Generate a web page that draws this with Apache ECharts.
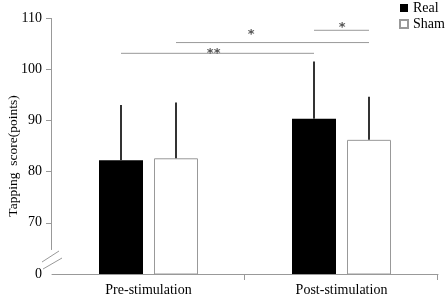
<!DOCTYPE html>
<html>
<head>
<meta charset="utf-8">
<script src="https://cdn.jsdelivr.net/npm/echarts@6/dist/echarts.min.js"></script>
<style>
  html, body { margin: 0; padding: 0; background: #fff; }
  #chart { width: 447px; height: 298px; }
</style>
</head>
<body>
<div id="chart"></div>
<script>
const categories = ["Pre-stimulation", "Post-stimulation"];
const realMean = [82.2, 90.3];
const realUpper = [93.0, 101.5];
const shamMean = [82.6, 86.2];
const shamUpper = [93.5, 94.6];
const yTickValues = [70, 80, 90, 100, 110];
const yLabelValues = [60, 70, 80, 90, 100, 110]; // 60 is printed as "0" (broken axis)
// significance brackets: from [category, series] to [category, series], level, mark
const sigFrom = [[0, 0], [0, 1], [1, 0]];
const sigTo = [[1, 0], [1, 1], [1, 1]];
const sigLevel = [103.1, 105.2, 107.6];
const sigMark = ["**", "*", "*"];

const FONT = "'Liberation Serif', 'Times New Roman', serif";
const AXIS_COLOR = "#999";
const GRID_LEFT = 52;
const BAR_W = 44;
const GAP = 0.25;
const OFFSET = (BAR_W + BAR_W * GAP) / 2; // distance from category centre to bar centre
const sigTextAt = [0.48, 0.39, 0.51];
const sigTextRise = [4, 12, 7];

const chart = echarts.init(document.getElementById("chart"));

function whisker(offset) {
  return function (params, api) {
    const base = api.coord([api.value(0), api.value(1)]);
    const top = api.coord([api.value(0), api.value(2)]);
    const x = base[0] + offset;
    return {
      type: "line",
      shape: { x1: x, y1: base[1], x2: x, y2: top[1] },
      style: { stroke: "#333", lineWidth: 2 }
    };
  };
}

function barX(api, cat, s) {
  return api.coord([cat, 60])[0] + (s === 0 ? -OFFSET : OFFSET);
}

const option = {
  animation: false,
  grid: { left: GRID_LEFT, right: 9, top: 18, bottom: 24 },
  legend: {
    data: ["Real", "Sham"],
    orient: "vertical",
    left: 399,
    top: 1,
    padding: 0,
    icon: "rect",
    itemWidth: 8,
    itemHeight: 8,
    itemGap: 2,
    textStyle: { fontFamily: FONT, fontSize: 14, color: "#000" }
  },
  xAxis: {
    type: "category",
    data: categories,
    axisLine: { lineStyle: { color: AXIS_COLOR, width: 1 } },
    axisTick: { show: false },
    axisLabel: { fontFamily: FONT, fontSize: 14, color: "#000", margin: 9 }
  },
  yAxis: {
    type: "value",
    min: 60,
    max: 110,
    interval: 10,
    splitLine: { show: false },
    axisLine: { show: false },
    axisTick: { show: true, length: 6, customValues: yTickValues, lineStyle: { color: AXIS_COLOR } },
    axisLabel: {
      fontFamily: FONT, fontSize: 14, color: "#000", margin: 10,
      customValues: yLabelValues,
      formatter: function (v) { return v === 60 ? "0" : String(v); }
    }
  },
  series: [
    {
      name: "Real",
      type: "bar",
      data: realMean,
      barWidth: BAR_W,
      barGap: GAP * 100 + "%",
      itemStyle: { color: "#000" }
    },
    {
      name: "Sham",
      type: "bar",
      data: shamMean,
      barWidth: BAR_W,
      itemStyle: { color: "#fff", borderColor: AXIS_COLOR, borderWidth: 1 }
    },
    {
      type: "custom",
      renderItem: whisker(-OFFSET),
      data: realMean.map((m, i) => [i, m, realUpper[i]]),
      z: 3
    },
    {
      type: "custom",
      renderItem: whisker(OFFSET),
      data: shamMean.map((m, i) => [i, m, shamUpper[i]]),
      z: 3
    },
    {
      type: "custom",
      data: sigLevel.map((lv, i) => [sigFrom[i][0], sigTo[i][0], lv]),
      renderItem: function (params, api) {
        const i = params.dataIndex;
        const x1 = barX(api, sigFrom[i][0], sigFrom[i][1]);
        const x2 = barX(api, sigTo[i][0], sigTo[i][1]);
        const y = api.coord([0, sigLevel[i]])[1];
        return {
          type: "group",
          children: [
            { type: "line", shape: { x1: x1, y1: y, x2: x2, y2: y }, style: { stroke: AXIS_COLOR, lineWidth: 1 } },
            {
              type: "text",
              style: {
                text: sigMark[i], x: x1 + (x2 - x1) * sigTextAt[i], y: y - sigTextRise[i] + 4,
                fill: "#555", font: "bold 13px 'DejaVu Sans'", align: "center", verticalAlign: "middle"
              }
            }
          ]
        };
      },
      z: 3
    }
  ]
};

chart.setOption(option);

// broken y axis: axis line down to just above the break, plus the two slashes;
// x-axis ticks only at the category boundary and the right end
const yTop = chart.convertToPixel({ yAxisIndex: 0 }, 110);
const yBreak = chart.convertToPixel({ yAxisIndex: 0 }, 64.7);
const yZero = chart.convertToPixel({ yAxisIndex: 0 }, 60);
const c0 = chart.convertToPixel({ xAxisIndex: 0 }, 0);
const c1 = chart.convertToPixel({ xAxisIndex: 0 }, 1);
const ox = GRID_LEFT;
const tickXs = [(c0 + c1) / 2, c1 + (c1 - c0) / 2];
chart.setOption({
  graphic: [
    { type: "line", shape: { x1: ox - 0.5, y1: yTop, x2: ox - 0.5, y2: yBreak }, style: { stroke: AXIS_COLOR, lineWidth: 1 } },
    { type: "line", shape: { x1: ox - 10, y1: yZero - 12, x2: ox + 7, y2: yZero - 23 }, style: { stroke: AXIS_COLOR, lineWidth: 1 } },
    { type: "line", shape: { x1: ox - 9, y1: yZero - 5, x2: ox + 10, y2: yZero - 16 }, style: { stroke: AXIS_COLOR, lineWidth: 1 } }
  ].concat(tickXs.map(function (tx) {
    const x = Math.round(tx) - 0.5;
    return { type: "line", shape: { x1: x, y1: yZero, x2: x, y2: yZero + 6 }, style: { stroke: AXIS_COLOR, lineWidth: 1 } };
  })).concat([
    {
      type: "text", x: 13, y: 156, rotation: Math.PI / 2,
      style: { text: "Tapping  score(points)", font: "13.5px " + FONT, fill: "#000", align: "center", verticalAlign: "middle" }
    }
  ])
});
</script>
</body>
</html>
